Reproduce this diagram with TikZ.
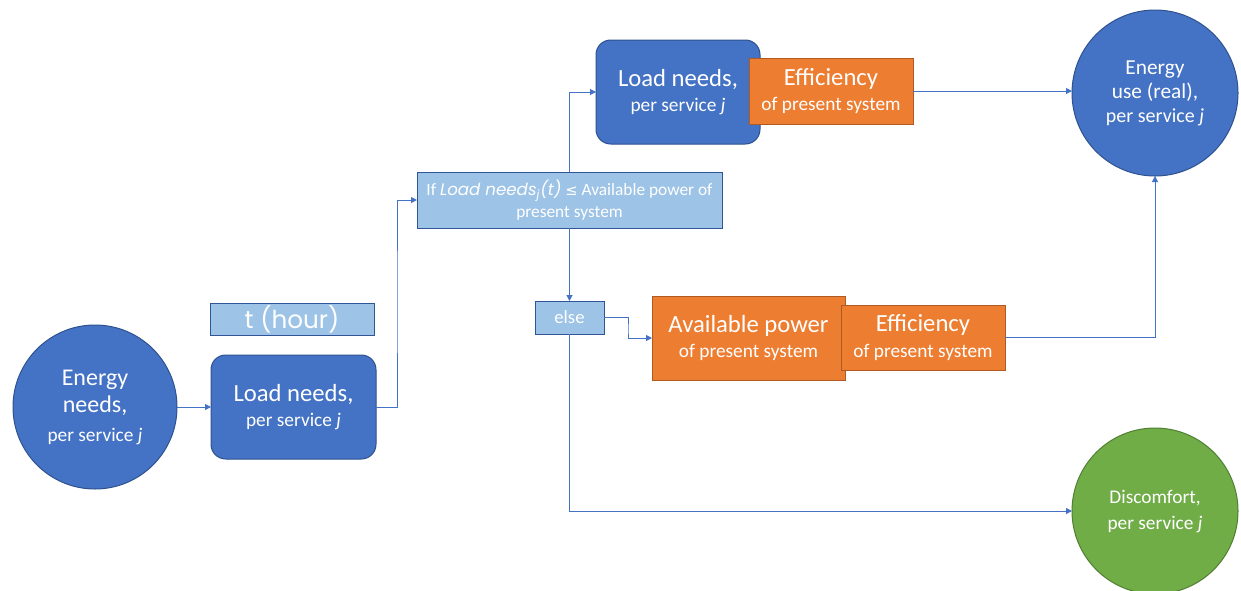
\documentclass[tikz,border=0pt]{standalone}
\usepackage{fontspec}
\setmainfont{Carlito}
\newfontfamily\geo{Poppins}
\newfontfamily\symf{DejaVu Sans}
\usetikzlibrary{arrows.meta}
\definecolor{fblue}{HTML}{4472C4}
\definecolor{dblue}{HTML}{2F528F}
\definecolor{lblue}{HTML}{9DC3E6}
\definecolor{lborder}{HTML}{2F5597}
\definecolor{forange}{HTML}{ED7D31}
\definecolor{dorange}{HTML}{AE5A21}
\definecolor{fgreen}{HTML}{70AD47}
\definecolor{dgreen}{HTML}{507E32}
\newcommand{\smltxt}[1]{{\fontsize{14.5}{19}\selectfont #1}}
\tikzset{
  base/.style={inner sep=0pt, outer sep=0pt, line width=0.75pt, text=white, align=center},
  bigfont/.style={font=\fontsize{18.5}{19}\selectfont},
  rbox/.style={base, bigfont, rectangle, rounded corners=11pt, fill=fblue, draw=dblue},
  obox/.style={base, bigfont, rectangle, fill=forange, draw=dorange},
  lbox/.style={base, rectangle, fill=lblue, draw=lborder},
  bcirc/.style={base, circle, fill=fblue, draw=dblue},
  gcirc/.style={base, circle, fill=fgreen, draw=dgreen},
  conn/.style={draw=fblue, line width=0.75pt, -{Triangle[length=4.5pt,width=4.5pt]}},
}
\begin{document}
\begin{tikzpicture}[x=0.75pt,y=-0.75pt]
\path[use as bounding box] (0,0) rectangle (1241,590);
\clip (0,0) rectangle (1241,590);
% nodes
\node[bcirc, minimum size=123pt, font=\fontsize{18}{20.5}\selectfont] (en) at (95,407)
  {Energy\\needs,\\[1pt]\smltxt{per service \textit{j}}};
\node[lbox, minimum width=123pt, minimum height=24pt, font=\geo\fontsize{18.5}{20}\selectfont] (th) at (292,319)
  {t (hour)};
\node[rbox, minimum width=123.75pt, minimum height=78pt] (ld1) at (293.5,407)
  {Load needs,\\\smltxt{per service \textit{j}}};
\node[lbox, minimum width=228.75pt, minimum height=42pt, font=\fontsize{13}{17}\selectfont] (cond) at (569.5,200)
  {If {\geo\itshape\fontsize{12.5}{17}\selectfont Load needs\textsubscript{j}(t)} {\symf\fontsize{11}{12}\selectfont ≤} Available power of\\present system};
\node[rbox, minimum width=123pt, minimum height=78pt] (ld2) at (678,92)
  {Load needs,\\\smltxt{per service \textit{j}}};
\node[obox, minimum width=123pt, minimum height=49.5pt] (ef1) at (831,91)
  {Efficiency\\\smltxt{of present system}};
\node[bcirc, minimum size=124.5pt, font=\fontsize{16}{18}\selectfont] (use) at (1155,93)
  {Energy\\use (real),\\{\fontsize{15}{18}\selectfont per service \textit{j}}};
\node[lbox, minimum width=51.75pt, minimum height=24.75pt, font=\fontsize{14}{16}\selectfont] (else) at (569.5,317.5)
  {else};
\node[obox, minimum width=144.75pt, minimum height=63pt] (av) at (748.5,338)
  {Available power\\\smltxt{of present system}};
\node[obox, minimum width=123pt, minimum height=48.75pt] (ef2) at (923,337.5)
  {Efficiency\\\smltxt{of present system}};
\node[gcirc, minimum size=124.5pt, font=\fontsize{14.5}{19.5}\selectfont] (dis) at (1155,511)
  {Discomfort,\\per service \textit{j}};
% connectors
\draw[conn] (en.east) -- (ld1.west);
\draw[conn] (ld1.east) -| (397,300) |- (cond.west);
\draw[conn] (cond.north) |- (ld2.west);
\draw[conn] (ef1.east) -- (ef1.east -| use.west);
\draw[conn] (cond.south) -- (else.north);
\draw[conn] (else.east) -| (628,330) |- (av.west);
\draw[conn] (ef2.east) -| (use.south);
\draw[conn] (else.south) |- (dis.west);
\end{tikzpicture}
\end{document}
